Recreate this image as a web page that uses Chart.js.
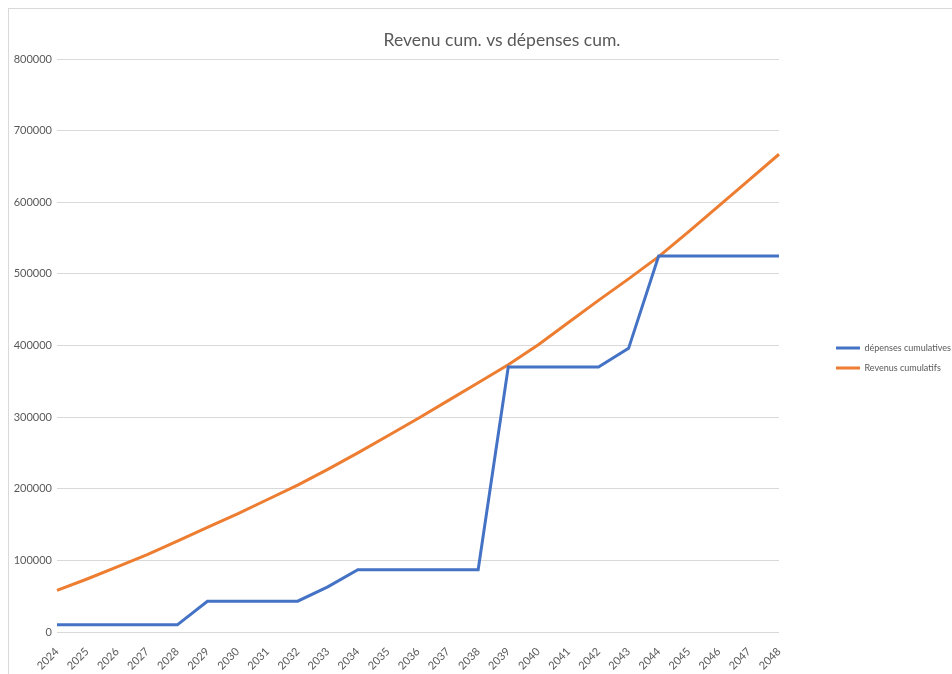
<!DOCTYPE html>
<html>
<head>
<meta charset="utf-8">
<script src="https://cdn.jsdelivr.net/npm/chart.js@4.4.1/dist/chart.umd.min.js"></script>
<style>
  html, body { margin: 0; padding: 0; background: #fff; overflow: hidden; }
  #frame { position: absolute; left: 8px; top: 8px; width: 980px; height: 700px; border: 1px solid #d9d9d9; }
  #wrap { position: absolute; left: 0; top: 0; width: 952px; height: 674px; }
</style>
</head>
<body>
<div id="frame"></div>
<div id="wrap"><canvas id="chart"></canvas></div>
<script>
const years = ['2024', '2025', '2026', '2027', '2028', '2029', '2030', '2031', '2032', '2033', '2034', '2035',
  '2036', '2037', '2038', '2039', '2040', '2041', '2042', '2043', '2044', '2045', '2046', '2047', '2048'];
const depenses = [10000, 10000, 10000, 10000, 10000, 43000, 43000, 43000, 43000, 63000, 87000, 87000,
  87000, 87000, 87000, 370000, 370000, 370000, 370000, 396000, 525000, 525000, 525000, 525000, 525000];
const revenus = [58000, 74000, 91000, 108000, 127000, 146000, 165000, 185000, 205000, 227000, 250000, 274000,
  298000, 323000, 348000, 373000, 401000, 432000, 463000, 493000, 524000, 559000, 595000, 631000, 667000];
const yTicks = [0, 100000, 200000, 300000, 400000, 500000, 600000, 700000, 800000];

const grey = '#595959';
const font = "Lato, 'Open Sans', sans-serif";

// excel style: legend sits away from the plot, title centred on the whole frame
const excelLayout = {
  id: 'excelLayout',
  beforeLayout(chart) {
    const lg = chart.legend;
    if (lg && !lg._patched) {
      const fit = lg.fit;
      lg.fit = function () {
        fit.call(this);
        this.width = 173;
      };
      lg._patched = true;
    }
  },
  afterLayout(chart) {
    const lg = chart.legend;
    lg.left += 46; lg.right += 46;
    lg.top += 12; lg.bottom += 12;
    chart.titleBlock.left += 44;
  }
};

new Chart(document.getElementById('chart'), {
  type: 'line',
  data: {
    labels: years,
    datasets: [
      { label: 'dépenses cumulatives', data: depenses, borderColor: '#4472C4', backgroundColor: '#4472C4',
        borderWidth: 3, pointRadius: 0, tension: 0 },
      { label: 'Revenus cumulatifs', data: revenus, borderColor: '#ED7D31', backgroundColor: '#ED7D31',
        borderWidth: 3, pointRadius: 0, tension: 0 }
    ]
  },
  options: {
    responsive: true,
    maintainAspectRatio: false,
    animation: false,
    layout: { padding: { left: 8, top: 18, right: 0, bottom: 0 } },
    plugins: {
      title: {
        display: true,
        text: 'Revenu cum. vs dépenses cum.',
        color: grey,
        font: { family: font, size: 17.5, weight: 'normal' },
        padding: { top: 12, bottom: 8 }
      },
      legend: {
        position: 'right',
        labels: {
          color: grey,
          font: { family: font, size: 9 },
          usePointStyle: true,
          pointStyle: 'line',
          pointStyleWidth: 24,
          padding: 11
        }
      },
      tooltip: { enabled: false }
    },
    scales: {
      x: {
        offset: false,
        grid: { display: false },
        border: { display: false },
        ticks: {
          color: grey,
          font: { family: font, size: 11 },
          minRotation: 45,
          maxRotation: 45,
          autoSkip: false,
          padding: 5
        },
        afterFit(scale) { scale.height = 42; }
      },
      y: {
        min: 0,
        max: 800000,
        grid: { color: '#d9d9d9', drawTicks: false },
        border: { display: false },
        afterBuildTicks(scale) { scale.ticks = yTicks.map(v => ({ value: v })); },
        ticks: {
          color: grey,
          font: { family: font, size: 11 },
          padding: 5,
          callback: v => String(v)
        },
        afterFit(scale) { scale.width = 49; }
      }
    }
  },
  plugins: [excelLayout]
});
</script>
</body>
</html>
